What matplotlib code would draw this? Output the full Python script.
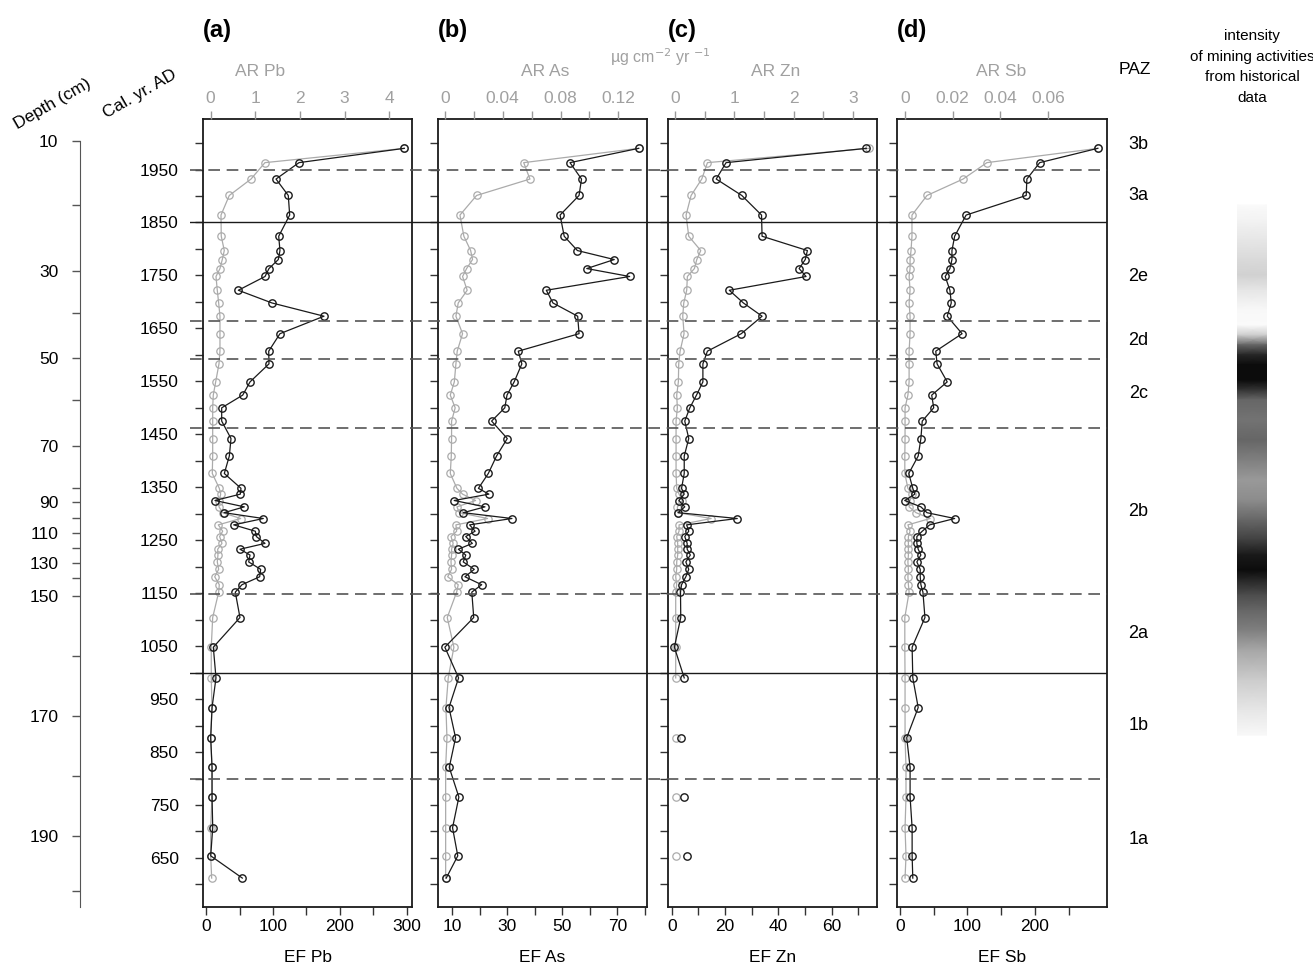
import numpy as np
import matplotlib.pyplot as plt

plt.rcParams['font.family'] = ['Liberation Sans', 'DejaVu Sans']

# ---- data ----
years = [1990, 1963, 1932, 1901, 1864, 1824, 1797, 1780, 1763, 1748,
         1722, 1698, 1673, 1640, 1607, 1583, 1549, 1524, 1500, 1475,
         1442, 1409, 1376, 1348, 1337, 1325, 1313, 1302, 1291, 1279,
         1267, 1257, 1244, 1233, 1222, 1209, 1195, 1181, 1166, 1152,
         1104, 1048, 990, 934, 877, 821, 765, 707, 654, 612]

ef_pb = [296, 138.8, 104.5, 122.8, 124.9, 108.5, 110.4, 107.9, 94.0, 88.1,
         48.2, 98.5, 176.1, 110.4, 93.6, 94.0, 65.7, 54.8, 23.4, 23.4,
         37.3, 34.8, 27.3, 52.2, 51.2, 13.4, 57.2, 26.9, 85.5, 41.3,
         73.6, 75.1, 88.1, 50.7, 65.7, 63.7, 81.6, 80.1, 53.7, 43.7,
         50.7, 10.9, 14.9, 9.0, 7.0, 9.0, 9.0, 10.0, 7.0, 54.2]
ar_pb = [4.34, 1.216, 0.903, 0.417, 0.231, 0.237, 0.305, 0.260, 0.208, 0.119,
         0.148, 0.179, 0.208, 0.208, 0.208, 0.186, 0.112, 0.058, 0.045, 0.045,
         0.045, 0.045, 0.036, 0.193, 0.224, 0.193, 0.186, 0.269, 0.672, 0.170,
         0.269, 0.200, 0.253, 0.157, 0.163, 0.148, 0.179, 0.090, 0.193, 0.179,
         0.045, 0.013, 0.013, 0.029, 0.0, 0.029, 0.029, 0.0, 0.0, 0.022]

ef_as = [77.8, 52.8, 57.0, 56.1, 49.2, 50.7, 55.5, 68.9, 58.9, 74.5,
         44.2, 46.6, 55.6, 56.1, 34.0, 35.3, 32.5, 29.9, 29.1, 24.3,
         30.0, 26.1, 23.1, 19.5, 23.3, 10.7, 21.9, 14.0, 31.7, 16.3,
         18.3, 14.9, 17.3, 12.2, 14.9, 14.0, 18.0, 14.6, 20.7, 17.1,
         17.8, 7.3, 12.3, 8.8, 11.2, 8.9, 12.4, 10.1, 12.0, 7.8]
ar_as = [0.134, 0.0545, 0.0588, 0.0219, 0.0104, 0.0131, 0.0178, 0.0191, 0.0150, 0.0122,
         0.0154, 0.0092, 0.0076, 0.0122, 0.0085, 0.0076, 0.0065, 0.0037, 0.0071, 0.0046,
         0.0046, 0.0044, 0.0037, 0.0083, 0.0122, 0.0212, 0.0083, 0.0100, 0.0295, 0.0076,
         0.0081, 0.0042, 0.0057, 0.0046, 0.0046, 0.0042, 0.0046, 0.0019, 0.0092, 0.0081,
         0.0016, 0.0062, 0.0023, 0.0007, 0.0014, 0.0005, 0.0005, 0.0005, 0.0005, 0.0005]

nan = np.nan
ef_zn = [73.0, 20.4, 16.7, 26.3, 33.7, 33.9, 50.9, 50.1, 47.8, 50.4,
         21.6, 26.9, 33.9, 26.1, 13.4, 11.7, 11.7, 9.3, 6.8, 4.9,
         6.4, 4.7, 4.7, 3.7, 4.7, 2.7, 4.9, 2.4, 24.6, 5.6,
         6.4, 4.9, 5.8, 5.8, 7.0, 5.3, 6.4, 5.3, 3.7, 3.3,
         3.4, 1.0, 4.7, nan, 3.4, nan, 4.7, nan, 5.6, nan]
ar_zn = [3.28, 0.547, 0.451, 0.271, 0.186, 0.231, 0.434, 0.367, 0.327, 0.208,
         0.197, 0.147, 0.130, 0.152, 0.085, 0.062, 0.056, 0.028, 0.039, 0.017,
         0.017, 0.017, 0.017, 0.028, 0.068, 0.124, 0.039, 0.045, 0.609, 0.068,
         0.068, 0.028, 0.045, 0.045, 0.045, 0.028, 0.028, 0.011, 0.028, 0.011,
         0.011, 0.011, 0.011, nan, 0.011, nan, 0.011, nan, 0.011, nan]

ef_sb = [293, 207, 188, 187, 98, 81, 77, 77, 74, 67,
         74, 76, 70, 92, 53, 55, 70, 47, 50, 33,
         31, 27, 13, 19, 22, 7, 31, 40, 81, 44,
         33, 25, 25, 27, 31, 25, 30, 30, 31, 34,
         37, 18, 19, 27, 10, 15, 15, 18, 18, 19]
ar_sb = [0.0809, 0.0344, 0.0244, 0.0093, 0.0030, 0.0030, 0.0026, 0.0022, 0.0022, 0.0018,
         0.0022, 0.0018, 0.0022, 0.0022, 0.0018, 0.0018, 0.0018, 0.0013, 0.0001, 0.0001,
         0.0001, 0.0, 0.0, 0.0013, 0.0030, 0.0022, 0.0018, 0.0047, 0.0106, 0.0013,
         0.0022, 0.0015, 0.0015, 0.0015, 0.0015, 0.0013, 0.0015, 0.0013, 0.0015, 0.0018,
         0.0, 0.0, 0.0001, 0.0001, 0.0001, 0.0005, 0.0005, 0.0001, 0.0005, 0.0001]

depth_cm = [10, 20, 30, 40, 50, 60, 70, 80, 90, 100,
            110, 120, 130, 140, 150, 160, 170, 180, 190, 200]
depth_year = [2004, 1883, 1758, 1679, 1594, 1515, 1428, 1349, 1322, 1292,
              1264, 1235, 1207, 1179, 1145, 1031, 918, 805, 692, 588]

zone_solid = [1850, 1000]
zone_dashed = [1950, 1664, 1593, 1462, 1148, 800]
paz_labels = ['3b', '3a', '2e', '2d', '2c', '2b', '2a', '1b', '1a']
paz_years = [1997, 1900, 1748, 1628, 1527, 1305, 1073, 900, 684]

# mining intensity profile (0 = none, 1 = max)
mining_year = [1883, 1855, 1817, 1779, 1751, 1722, 1685, 1656, 1637, 1619,
               1600, 1581, 1552, 1534, 1515, 1477, 1439, 1402, 1364, 1326,
               1288, 1250, 1222, 1194, 1175, 1147, 1118, 1080, 1043, 986, 930, 882]
mining_int = [0.02, 0.05, 0.10, 0.15, 0.18, 0.10, 0.03, 0.02, 0.20, 0.60,
              0.85, 0.95, 0.95, 0.80, 0.60, 0.55, 0.60, 0.50, 0.40, 0.45,
              0.60, 0.75, 0.90, 0.95, 0.85, 0.70, 0.60, 0.50, 0.35, 0.20, 0.10, 0.03]

# ---- layout helpers (pixel based) ----
W, H = 1313, 963
fig = plt.figure(figsize=(W / 100, H / 100), dpi=100)
TOP, BOT = 119, 907
YLIM = (557.4, 2045.4)
FS = 12.5


def box(x0, x1, y0=TOP, y1=BOT):
    return [x0 / W, 1 - y1 / H, (x1 - x0) / W, (y1 - y0) / H]


BLACK = '#1a1a1a'
GREY = '#ababab'

panels = [
    dict(x=(203, 412), ef=ef_pb, ar=ar_pb, eflim=(-4.5, 307.5), arlim=(-0.172, 4.51),
         efticks=np.arange(0, 301, 50), eflabels=[0, 100, 200, 300],
         articks=[0, 1, 2, 3, 4], arlabels=['0', '1', '2', '3', '4'],
         name='Pb', tag='(a)', arx=260),
    dict(x=(437.7, 646.7), ef=ef_as, ar=ar_as, eflim=(4.7, 80.7), arlim=(-0.005, 0.1396),
         efticks=np.arange(10, 81, 10), eflabels=[10, 30, 50, 70],
         articks=[0, 0.02, 0.04, 0.06, 0.08, 0.10, 0.12],
         arlabels=['0', '', '0.04', '', '0.08', '', '0.12'],
         name='As', tag='(b)', arx=545),
    dict(x=(667.7, 876.7), ef=ef_zn, ar=ar_zn, eflim=(-1.5, 76.9), arlim=(-0.124, 3.404),
         efticks=np.arange(0, 71, 10), eflabels=[0, 20, 40, 60],
         articks=[0, 0.5, 1, 1.5, 2, 2.5, 3], arlabels=['0', '', '1', '', '2', '', '3'],
         name='Zn', tag='(c)', arx=776),
    dict(x=(897, 1107), ef=ef_sb, ar=ar_sb, eflim=(-4.4, 306.7), arlim=(-0.00327, 0.0847),
         efticks=np.arange(0, 251, 50), eflabels=[0, 100, 200],
         articks=[0, 0.02, 0.04, 0.06], arlabels=['0', '0.02', '0.04', '0.06'],
         name='Sb', tag='(d)', arx=1001),
]

for i, p in enumerate(panels):
    ax = fig.add_axes(box(*p['x']))
    ax.set_ylim(*YLIM)
    ax.set_xlim(*p['eflim'])
    ax.set_yticks(np.arange(600, 2001, 50))
    if i == 0:
        ax.set_yticklabels([str(y) if y % 100 == 50 else '' for y in range(600, 2001, 50)])
    else:
        ax.set_yticklabels([])
    ax.tick_params(axis='y', length=5.5, width=1, color='#333333', labelsize=FS, pad=12)
    ax.set_xticks(p['efticks'])
    ax.set_xticklabels([str(t) if t in p['eflabels'] else '' for t in p['efticks']])
    ax.tick_params(axis='x', length=5.5, width=1, color='#333333', labelsize=FS, pad=3)
    for s in ax.spines.values():
        s.set_linewidth(1.3)
        s.set_color(BLACK)

    # AR (grey, top axis)
    ax2 = ax.twiny()
    ax2.set_xlim(*p['arlim'])
    ax2.plot(p['ar'], years, '-o', color=GREY, lw=0.9, ms=5.3, mfc='none', mew=0.9, zorder=2)
    # EF (black) drawn above the grey series
    ax3 = ax2.twiny()
    ax3.set_xlim(*p['eflim'])
    ax3.axis('off')
    ax3.plot(p['ef'], years, '-o', color=BLACK, lw=0.9, ms=5.3, mfc='none', mew=1.0, zorder=3)

    ax2.xaxis.set_ticks_position('top')
    ax2.set_xticks(p['articks'])
    ax2.set_xticklabels(p['arlabels'])
    ax2.tick_params(axis='x', length=5.5, width=1, color='#999999', labelcolor='#a0a0a0',
                    labelsize=FS, pad=4)
    for s in ax2.spines.values():
        s.set_visible(False)

    cx = (p['x'][0] + p['x'][1]) / 2
    fig.text(cx / W, 1 - 957 / H, 'EF ' + p['name'], ha='center', va='center', fontsize=FS)
    fig.text(p['arx'] / W, 1 - 72 / H, 'AR ' + p['name'], ha='center', va='center',
             fontsize=FS, color='#a0a0a0')
    fig.text(p['x'][0] / W, 1 - 30 / H, p['tag'], ha='left', va='center',
             fontsize=17, fontweight='bold')

fig.text(660 / W, 1 - 57 / H, r'µg cm$^{-2}$ yr $^{-1}$', ha='center', va='center',
         fontsize=11.5, color='#a0a0a0')

# zone boundaries across all panels
ov = fig.add_axes(box(190, 1107))
ov.set_ylim(*YLIM)
ov.set_xlim(0, 1)
ov.axis('off')
ov.patch.set_visible(False)
for yv in zone_solid:
    ov.axhline(yv, color=BLACK, lw=1.0)
for yv in zone_dashed:
    ov.axhline(yv, color='#555555', lw=1.2, dashes=(7, 4))

# PAZ column
fig.text(1135 / W, 1 - 70 / H, 'PAZ', ha='center', va='center', fontsize=FS)
pz = fig.add_axes(box(1110, 1170))
pz.set_ylim(*YLIM)
pz.set_xlim(0, 1)
pz.axis('off')
for lab, yv in zip(paz_labels, paz_years):
    pz.text(0.47, yv, lab, ha='center', va='center', fontsize=13)

# depth axis
dax = fig.add_axes(box(80, 80.5))
dax.set_ylim(*YLIM)
for k in ['right', 'top', 'bottom']:
    dax.spines[k].set_visible(False)
dax.spines['left'].set_color('#555555')
dax.spines['left'].set_bounds(YLIM[0], depth_year[0])
dax.set_xticks([])
dax.set_yticks(depth_year)
dax.set_yticklabels([str(d) if d % 20 == 10 else '' for d in depth_cm])
dax.tick_params(axis='y', length=5.5, width=1, color='#555555', labelsize=FS, pad=10)

fig.text(52 / W, 1 - 104 / H, 'Depth (cm)', rotation=30, ha='center', va='center', fontsize=FS)
fig.text(140 / W, 1 - 94 / H, 'Cal. yr. AD', rotation=30, ha='center', va='center', fontsize=FS)

# mining intensity bar
bax = fig.add_axes(box(1237, 1267))
bax.set_ylim(*YLIM)
bax.axis('off')
Z = np.column_stack([mining_int, mining_int])
bax.pcolormesh([0, 1], mining_year, Z, shading='gouraud', cmap='gray_r', vmin=0, vmax=1)
bax.set_xlim(0, 1)
fig.text(1252 / W, 1 - 67 / H, 'intensity\nof mining activities\nfrom historical\ndata',
         ha='center', va='center', fontsize=11, linespacing=1.6)

fig.savefig('out.png', dpi=100)
